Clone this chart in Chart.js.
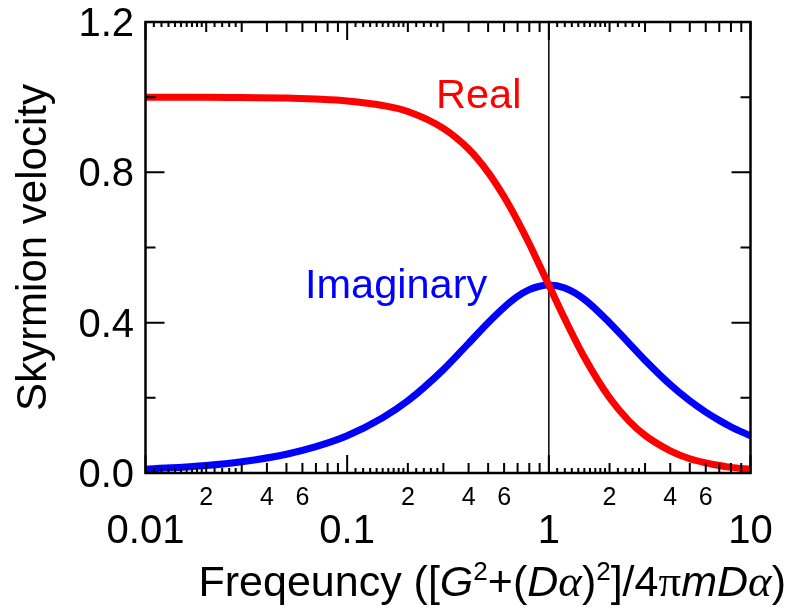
<!DOCTYPE html>
<html>
<head>
<meta charset="utf-8">
<script src="https://cdn.jsdelivr.net/npm/chart.js@4"></script>
<style>
  body { margin: 0; background: #fff; }
  #wrap { width: 788px; height: 613px; }
</style>
</head>
<body>
<div id="wrap"><canvas id="chart" width="788" height="613"></canvas></div>
<script>
// values
const freq = [0.01, 0.02, 0.03, 0.05, 0.07, 0.1, 0.15, 0.2, 0.3, 0.4, 0.5, 0.6, 0.7, 0.8, 0.9, 1, 1.2, 1.5, 2, 2.5, 3, 4, 5, 6, 7, 8, 10];
const realVel = [1.000, 1.000, 0.999, 0.998, 0.995, 0.990, 0.978, 0.962, 0.917, 0.862, 0.800, 0.735, 0.671, 0.610, 0.552, 0.500, 0.410, 0.308, 0.200, 0.138, 0.100, 0.059, 0.038, 0.027, 0.020, 0.015, 0.010];
const imagVel = [0.010, 0.020, 0.030, 0.050, 0.070, 0.099, 0.147, 0.192, 0.275, 0.345, 0.400, 0.441, 0.470, 0.488, 0.497, 0.500, 0.492, 0.462, 0.400, 0.345, 0.300, 0.235, 0.192, 0.162, 0.140, 0.123, 0.099];
const markX = [1, 1];
const markY = [0, 1.2];

const xMajor = [0.01, 0.1, 1, 10];
const xMajorLabels = ['0.01', '0.1', '1', '10'];
const xMinorSteps = [2, 3, 4, 5, 6, 7, 8, 9];
const xFineSteps = [1.1, 1.2, 1.3, 1.4, 1.5, 1.6, 1.7, 1.8, 1.9, 2.2, 2.4, 2.6, 2.8];
const xMinorLabels = [2, 4, 6];
const yMajor = [0, 0.4, 0.8, 1.2];
const yMajorLabels = ['0.0', '0.4', '0.8', '1.2'];
const yMinor = [0.2, 0.6, 1.0];

const FONT = '"Liberation Sans", Arial, Helvetica, sans-serif';

function pts(xs, ys) {
	return xs.map((x, i) => ({ x: x, y: ys[i] }));
}

const frameTicks = {
	id: 'frameTicks',
	afterDatasetsDraw(chart) {
		const ctx = chart.ctx;
		const a = chart.chartArea;
		const xs = chart.scales.x;
		const ys = chart.scales.y;
		ctx.save();
		ctx.strokeStyle = '#000';
		ctx.lineWidth = 2.5;
		ctx.strokeRect(a.left, a.top, a.right - a.left, a.bottom - a.top);

		function xTick(v, len) {
			const px = xs.getPixelForValue(v);
			ctx.beginPath();
			ctx.moveTo(px, a.bottom); ctx.lineTo(px, a.bottom - len);
			ctx.moveTo(px, a.top); ctx.lineTo(px, a.top + len);
			ctx.stroke();
		}
		function yTick(v, len) {
			const py = ys.getPixelForValue(v);
			ctx.beginPath();
			ctx.moveTo(a.left, py); ctx.lineTo(a.left + len, py);
			ctx.moveTo(a.right, py); ctx.lineTo(a.right - len, py);
			ctx.stroke();
		}

		ctx.lineWidth = 2;
		xMajor.forEach(d => {
			xTick(d, 18);
			if (d >= 10) return;
			xMinorSteps.forEach(m => xTick(d * m, 10));
			xFineSteps.forEach(m => xTick(d * m, 5));
		});
		yMajor.forEach(v => yTick(v, 19));
		yMinor.forEach(v => yTick(v, 10));

		// tick labels
		ctx.fillStyle = '#000';
		ctx.font = '40px ' + FONT;
		ctx.textAlign = 'right';
		ctx.textBaseline = 'alphabetic';
		yMajor.forEach((v, i) => {
			ctx.fillText(yMajorLabels[i], 134, ys.getPixelForValue(v) + 14);
		});
		ctx.textAlign = 'center';
		xMajor.forEach((v, i) => {
			ctx.fillText(xMajorLabels[i], xs.getPixelForValue(v), 543);
		});
		ctx.font = '25px ' + FONT;
		xMajor.slice(0, 3).forEach(d => {
			xMinorLabels.forEach(m => {
				ctx.fillText(String(m), xs.getPixelForValue(d * m), 505);
			});
		});

		// series labels
		ctx.textAlign = 'left';
		ctx.font = '41.5px ' + FONT;
		ctx.fillStyle = '#ff0000';
		ctx.fillText('Real', 436, 108);
		ctx.fillStyle = '#0000ff';
		ctx.fillText('Imaginary', 305, 298);

		// y axis title
		ctx.font = '42px ' + FONT;
		ctx.fillStyle = '#000';
		ctx.save();
		ctx.translate(46, (a.top + a.bottom) / 2);
		ctx.rotate(-Math.PI / 2);
		ctx.textAlign = 'center';
		ctx.fillText('Skyrmion velocity', 0, 0);
		ctx.restore();

		// x axis title, drawn piece by piece
		const SERIF = '"Liberation Serif", "Times New Roman", serif';
		const parts = [
			['Freqeuncy ([', '43px ' + FONT, 0],
			['G', 'italic 43px ' + FONT, 0],
			['2', '26px ' + FONT, -16],
			['+(', '43px ' + FONT, 0],
			['D', 'italic 43px ' + FONT, 0],
			['\u03b1', 'italic 45px ' + SERIF, 0],
			[')', '43px ' + FONT, 0],
			['2', '26px ' + FONT, -16],
			[']/4', '43px ' + FONT, 0],
			['\u03c0', '45px ' + SERIF, 0],
			['m', 'italic 43px ' + FONT, 0],
			['D', 'italic 43px ' + FONT, 0],
			['\u03b1', 'italic 45px ' + SERIF, 0],
			[')', '43px ' + FONT, 0]
		];
		ctx.textAlign = 'left';
		let total = 0;
		parts.forEach(p => { ctx.font = p[1]; total += ctx.measureText(p[0]).width; });
		let cx = 786 - total;
		parts.forEach(p => {
			ctx.font = p[1];
			ctx.fillText(p[0], cx, 596 + p[2]);
			cx += ctx.measureText(p[0]).width;
		});
		ctx.restore();
	}
};

new Chart(document.getElementById('chart').getContext('2d'), {
	type: 'scatter',
	data: {
		datasets: [
			{
				label: 'Real',
				data: pts(freq, realVel),
				showLine: true,
				borderColor: '#ff0000',
				borderWidth: 7,
				pointRadius: 0,
				cubicInterpolationMode: 'monotone',
				order: 0
			},
			{
				label: 'Imaginary',
				data: pts(freq, imagVel),
				showLine: true,
				borderColor: '#0000ff',
				borderWidth: 7,
				pointRadius: 0,
				cubicInterpolationMode: 'monotone',
				order: 1
			},
			{
				label: 'x = 1',
				data: pts(markX, markY),
				showLine: true,
				borderColor: '#000',
				borderWidth: 1.5,
				pointRadius: 0,
				order: 2
			}
		]
	},
	options: {
		responsive: false,
		animation: false,
		layout: { padding: { left: 145.5, right: 37.5, top: 22, bottom: 140 } },
		scales: {
			x: { type: 'logarithmic', min: 0.01, max: 10, display: false },
			y: { type: 'linear', min: 0, max: 1.2, display: false }
		},
		plugins: {
			legend: { display: false },
			tooltip: { enabled: false }
		}
	},
	plugins: [frameTicks]
});
</script>
</body>
</html>
